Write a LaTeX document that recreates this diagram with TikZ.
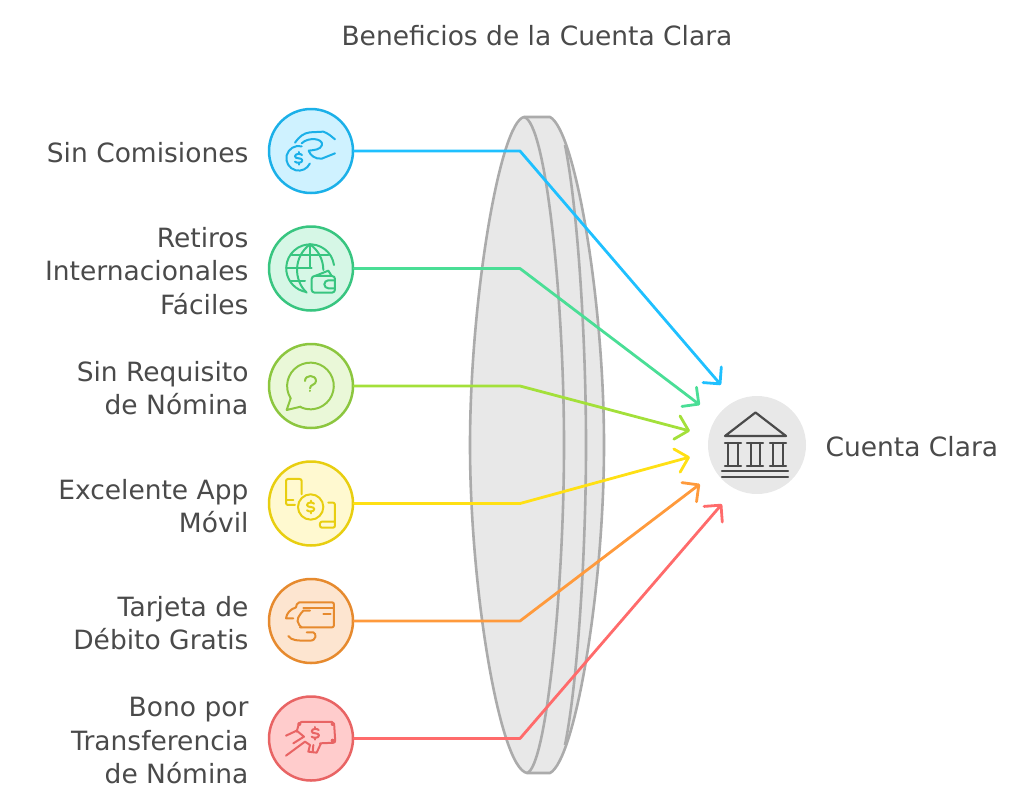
\documentclass[tikz,border=0pt]{standalone}
\usepackage{fontspec}
\setmainfont{DejaVu Sans}
\usetikzlibrary{arrows.meta}
\pgfdeclarearrow{
  name = VTip,
  setup code = {
    \pgfarrowssettipend{1.5pt}
    \pgfarrowssetlineend{-0.5pt}
    \pgfarrowssetvisualtipend{1.5pt}
    \pgfarrowssetbackend{-12pt}
    \pgfarrowssetvisualbackend{-1pt}
    \pgfarrowshullpoint{1.5pt}{0pt}
    \pgfarrowshullpoint{-12pt}{12pt}
    \pgfarrowshullpoint{-12pt}{-12pt}
  },
  drawing code = {
    \pgfsetdash{}{0pt}\pgfsetroundcap\pgfsetroundjoin
    \pgfpathmoveto{\pgfqpoint{-12pt}{12pt}}
    \pgfpathlineto{\pgfqpoint{0pt}{0pt}}
    \pgfpathlineto{\pgfqpoint{-12pt}{-12pt}}
    \pgfusepathqstroke
  },
}
\definecolor{txt}{HTML}{4A4A4A}
\definecolor{lensline}{HTML}{ABABAB}
\definecolor{lensfill}{HTML}{E8E8E8}
\definecolor{bS}{HTML}{1BB0E8}\definecolor{bF}{HTML}{CFF2FF}\definecolor{bC}{HTML}{1FC0FF}
\definecolor{gS}{HTML}{38C580}\definecolor{gF}{HTML}{D6F7E6}\definecolor{gC}{HTML}{4ADE96}
\definecolor{lS}{HTML}{8CC63F}\definecolor{lF}{HTML}{EAF8D8}\definecolor{lC}{HTML}{A3E03A}
\definecolor{yS}{HTML}{E8CE10}\definecolor{yF}{HTML}{FFF9D0}\definecolor{yC}{HTML}{FFE014}
\definecolor{oS}{HTML}{E68A2E}\definecolor{oF}{HTML}{FDE5D0}\definecolor{oC}{HTML}{FF9A3C}
\definecolor{rS}{HTML}{E86464}\definecolor{rF}{HTML}{FFCCCC}\definecolor{rC}{HTML}{FF6B6B}
\tikzset{
  disc/.style={circle,draw=#1S,fill=#1F,line width=2.5pt,minimum size=84pt,inner sep=0pt},
  lbl/.style={anchor=east,align=right,text=txt,font=\fontsize{26.5}{33.5}\selectfont},
  conn/.style={draw=#1C,line width=2.8pt,line cap=round,line join=round,-{VTip}},
  ico/.style={draw=#1S,line width=2pt,line cap=round,line join=round},
  zoomed/.style={x=0.3333pt,y=-0.3333pt},
  lensside/.style={draw=lensline,line width=2.6pt,line join=round},
  dollar/.pic={
    \path[pic actions,fill=none] (10,-10) .. controls (7,-15) and (-11,-15) .. (-11,-6) .. controls (-11,3) and (11,-3) .. (11,6) .. controls (11,15) and (-7,15) .. (-11,10);
    \path[pic actions] (0,-19)--(0,-14) (0,14)--(0,19);
  }
}
\begin{document}
\begin{tikzpicture}[x=1pt,y=-1pt]
\useasboundingbox (0,0) rectangle (1024,806);
% lens
\path[lensside,fill=lensfill] (550,117) .. controls (575,130) and (604,300) .. (604,445)
  .. controls (604,590) and (575,760) .. (550,773) -- (527,773)
  .. controls (500,768) and (470,590) .. (470,445)
  .. controls (470,300) and (500,122) .. (524,117) -- cycle;
\draw[lensside] (524,117) .. controls (546,122) and (564,300) .. (564,445)
  .. controls (564,590) and (546,768) .. (527,773);
\draw[lensside] (565,145) .. controls (578,210) and (586,340) .. (586,445)
  .. controls (586,550) and (578,680) .. (565,745);
% nodes
\node[disc=b] (c1) at (311,151) {};
\node[disc=g] (c2) at (311,268.5) {};
\node[disc=l] (c3) at (311,386) {};
\node[disc=y] (c4) at (311,503.5) {};
\node[disc=o] (c5) at (311,621) {};
\node[disc=r] (c6) at (311,738.5) {};
\node[circle,fill=lensfill,minimum size=98pt,inner sep=0pt] (bank) at (757,445) {};
% connector waypoints
\coordinate (k1) at (520,151); \coordinate (t1) at (721,385);
\coordinate (k2) at (520,268.5); \coordinate (t2) at (700,405);
\coordinate (k3) at (520,386); \coordinate (t3) at (690,431);
\coordinate (k4) at (520,503.5); \coordinate (t4) at (690,457);
\coordinate (k5) at (520,621); \coordinate (t5) at (700,484);
\coordinate (k6) at (520,738.5); \coordinate (t6) at (722,504);
\draw[conn=b] (c1.east) -- (k1) -- (t1);
\draw[conn=g] (c2.east) -- (k2) -- (t2);
\draw[conn=l] (c3.east) -- (k3) -- (t3);
\draw[conn=y] (c4.east) -- (k4) -- (t4);
\draw[conn=o] (c5.east) -- (k5) -- (t5);
\draw[conn=r] (c6.east) -- (k6) -- (t6);
% labels
\node[text=txt,font=\fontsize{26.5}{30}\selectfont] (title) at (537,36) {Beneficios de la Cuenta Clara};
\node[lbl] (l1) at (252,153) {Sin Comisiones};
\node[lbl] (l2) at (252,271) {Retiros\\Internacionales\\Fáciles};
\node[lbl] (l3) at (252,388) {Sin Requisito\\de Nómina};
\node[lbl] (l4) at (252,506) {Excelente App\\Móvil};
\node[lbl] (l5) at (252,623) {Tarjeta de\\Débito Gratis};
\node[lbl] (l6) at (252,741) {Bono por\\Transferencia\\de Nómina};
\node[lbl,anchor=west] (l7) at (822,447) {Cuenta Clara};
% blue icon
\begin{scope}[shift={(260,100)},zoomed,ico=b]
\draw (125,139) arc[start angle=-76,end angle=-335,radius=37];
\pic[ico=b] at (116,175) {dollar};
\draw (105,128) .. controls (120,108) and (130,100) .. (150,97) -- (190,95) .. controls (205,100) and (215,110) .. (225,118);
\draw (125,130) .. controls (145,110) and (190,115) .. (186,135) .. controls (182,150) and (160,150) .. (146,152) .. controls (150,165) and (165,178) .. (185,176) -- (225,160);
\end{scope}
% green icon
\begin{scope}[shift={(260,100)},zoomed,ico=g]
\draw (222,495) arc[start angle=-8,end angle=-260,radius=72];
\draw (150,433) .. controls (100,470) and (100,540) .. (140,578);
\draw (150,433) .. controls (175,450) and (190,480) .. (190,510);
\draw (150,433) -- (150,503);
\draw (95,465) -- (205,465) (78,503) -- (155,503) (92,543) -- (135,543);
\draw[rounded corners=3pt] (155,528) rectangle (225,578);
\draw (165,528) -- (205,512) -- (215,528);
\draw (225,541) -- (205,541) arc[start angle=-90,end angle=-270,radius=12] -- (225,565);
\end{scope}
% lime icon
\begin{scope}[shift={(260,335)},zoomed,ico=l]
\draw (92,190) arc[start angle=148,end angle=476,radius=70];
\draw (92,190) -- (80,225) -- (122,215);
\draw (135,138) .. controls (135,118) and (168,118) .. (168,138) .. controls (168,150) and (150,148) .. (150,160);
\draw (150,167) -- (150,168);
\end{scope}
% yellow icon
\begin{scope}[shift={(260,335)},zoomed,ico=y]
\draw (152,516) circle[radius=38];
\pic[ico=y] at (152,516) {dollar};
\draw[rounded corners=2pt] (105,510) -- (78,510) -- (78,432) -- (125,432) -- (125,478);
\draw (78,495) -- (100,495);
\draw[rounded corners=2pt] (205,503) -- (225,503) -- (225,578) -- (180,578) -- (180,560) -- (225,560);
\end{scope}
% orange icon
\begin{scope}[shift={(260,570)},zoomed,ico=o]
\draw[rounded corners=2pt] (108,112) -- (112,97) -- (222,97) -- (222,172) -- (120,172);
\draw (130,115) -- (222,115) (190,132) -- (212,132);
\draw (108,112) .. controls (90,118) and (80,130) .. (78,145) -- (100,145);
\draw (150,122) -- (130,122) .. controls (118,135) and (105,150) .. (118,165) -- (125,172);
\draw (85,198) .. controls (95,212) and (110,212) .. (150,212) .. controls (170,212) and (170,190) .. (160,187) -- (140,187);
\end{scope}
% red icon
\begin{scope}[shift={(260,570)},zoomed,ico=r]
\draw[rounded corners=2pt] (110,485) -- (118,456) -- (222,456) -- (226,518) -- (180,520);
\fill[rS] (118,462) circle[radius=6] (218,462) circle[radius=6] (218,512) circle[radius=6];
\pic[ico=r] at (166,490) {dollar};
\draw (78,497) -- (110,482) -- (132,500) -- (100,520);
\draw (78,557) -- (135,515) -- (150,525) -- (145,545) -- (170,548) -- (182,522);
\draw (160,525) -- (158,545);
\end{scope}
% bank icon
\begin{scope}[ico=o,draw=txt,line width=2.2pt]
\draw (725,436) -- (755.5,412.5) -- (786,436) -- cycle;
\draw (725,442.7) -- (741,442.7) (747,442.7) -- (763,442.7) (770,442.7) -- (786,442.7);
\draw (725,466) -- (741,466) (747,466) -- (763,466) (770,466) -- (786,466);
\draw (728,443) -- (728,466) (738,443) -- (738,466) (751,443) -- (751,466) (760,443) -- (760,466) (773,443) -- (773,466) (783,443) -- (783,466);
\draw (722,470.7) -- (788,470.7) (722,477) -- (788,477);
\end{scope}
\end{tikzpicture}
\end{document}
